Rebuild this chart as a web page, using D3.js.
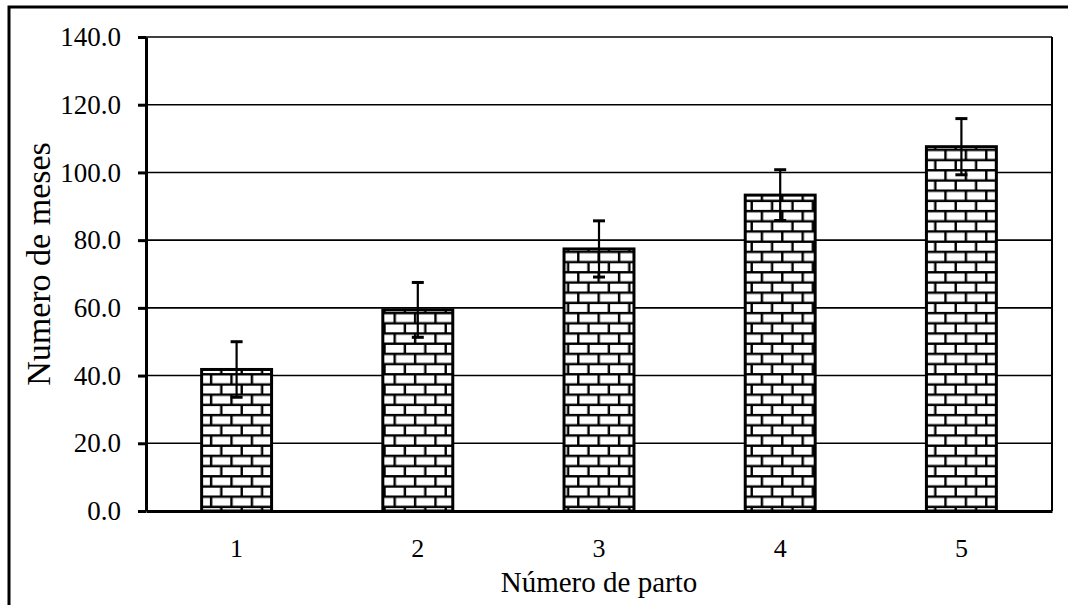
<!DOCTYPE html>
<html>
<head>
<meta charset="utf-8">
<script src="https://cdn.jsdelivr.net/npm/d3@7"></script>
<style>
  body { margin: 0; background: #fff; }
  svg { display: block; }
  text { font-family: "Liberation Serif", "Times New Roman", serif; fill: #000; }
</style>
</head>
<body>
<svg id="chart" width="1068" height="605"></svg>
<script>
// values
let partos = ["1", "2", "3", "4", "5"];
let meses = [41.8, 59.4, 77.4, 93.3, 107.6];
let errores = [8.2, 8.1, 8.3, 7.5, 8.3];
let yTicks = [0, 20, 40, 60, 80, 100, 120, 140];

let svg = d3.select("#chart");

let plotL = 146, plotR = 1052, plotT = 37, plotB = 511;

let x = d3.scaleBand().domain(partos).range([plotL, plotR]).paddingInner(0.614).paddingOuter(0.307);
let y = d3.scaleLinear().domain([0, 140]).range([plotB, plotT]);

// brick fill
let defs = svg.append("defs");
let pat = defs.append("pattern")
  .attr("id", "brick")
  .attr("patternUnits", "userSpaceOnUse")
  .attr("x", 2).attr("y", 2)
  .attr("width", 20.4).attr("height", 20.4);
pat.append("rect").attr("width", 20.4).attr("height", 20.4).attr("fill", "#fff");
let bl = [
  [0, 5.1, 20.4, 5.1], [0, 15.3, 20.4, 15.3],
  [5.1, 5.1, 5.1, 15.3],
  [15.3, 15.3, 15.3, 20.4], [15.3, 0, 15.3, 5.1]
];
pat.selectAll("line").data(bl).enter().append("line")
  .attr("x1", d => d[0]).attr("y1", d => d[1])
  .attr("x2", d => d[2]).attr("y2", d => d[3])
  .attr("stroke", "#000").attr("stroke-width", 2.4);

// outer frame (runs past the window edge)
svg.append("rect")
  .attr("x", 9).attr("y", 7).attr("width", 1100).attr("height", 640)
  .attr("fill", "none").attr("stroke", "#000").attr("stroke-width", 3);

// gridlines
svg.append("g").selectAll("line").data(yTicks.slice(1)).enter().append("line")
  .attr("x1", plotL).attr("x2", plotR)
  .attr("y1", d => y(d)).attr("y2", d => y(d))
  .attr("stroke", "#000").attr("stroke-width", 1.6);

// plot area right edge
svg.append("line").attr("x1", plotR).attr("x2", plotR).attr("y1", plotT).attr("y2", plotB)
  .attr("stroke", "#000").attr("stroke-width", 2);

// bars
svg.append("g").selectAll("rect").data(meses).enter().append("rect")
  .attr("x", (d, i) => x(partos[i]))
  .attr("y", d => y(d))
  .attr("width", x.bandwidth())
  .attr("height", d => y(0) - y(d))
  .attr("fill", "url(#brick)")
  .attr("stroke", "#000").attr("stroke-width", 3);

// error bars
let eb = svg.append("g").selectAll("g").data(meses).enter().append("g");
eb.append("line")
  .attr("x1", (d, i) => x(partos[i]) + x.bandwidth() / 2)
  .attr("x2", (d, i) => x(partos[i]) + x.bandwidth() / 2)
  .attr("y1", (d, i) => y(d - errores[i]))
  .attr("y2", (d, i) => y(d + errores[i]))
  .attr("stroke", "#000").attr("stroke-width", 2.2);
[-1, 1].forEach(s => {
  eb.append("line")
    .attr("x1", (d, i) => x(partos[i]) + x.bandwidth() / 2 - 6)
    .attr("x2", (d, i) => x(partos[i]) + x.bandwidth() / 2 + 6)
    .attr("y1", (d, i) => y(d + s * errores[i]))
    .attr("y2", (d, i) => y(d + s * errores[i]))
    .attr("stroke", "#000").attr("stroke-width", 3);
});

// y axis
let yAxis = svg.append("g")
  .attr("transform", "translate(" + plotL + ",0)")
  .call(d3.axisLeft(y).tickValues(yTicks).tickSize(8).tickPadding(17).tickFormat(d3.format(".1f")).tickSizeOuter(0));
yAxis.select(".domain").attr("stroke-width", 3);
yAxis.selectAll(".tick line").attr("stroke-width", 3);
yAxis.selectAll("text").attr("font-size", 27).style("font-family", "Liberation Serif");

// x axis
let xAxis = svg.append("g")
  .attr("transform", "translate(0," + plotB + ")")
  .call(d3.axisBottom(x).tickSize(0).tickPadding(28).tickSizeOuter(0));
xAxis.select(".domain").attr("stroke-width", 3);
xAxis.selectAll("text").attr("font-size", 26).style("font-family", "Liberation Serif");

// titles
svg.append("text")
  .attr("transform", "translate(50,264) rotate(-90)")
  .attr("text-anchor", "middle")
  .attr("font-size", 34)
  .text("Numero de meses");

svg.append("text")
  .attr("x", (plotL + plotR) / 2).attr("y", 592)
  .attr("text-anchor", "middle")
  .attr("font-size", 29)
  .text("Número de parto");
</script>
</body>
</html>
